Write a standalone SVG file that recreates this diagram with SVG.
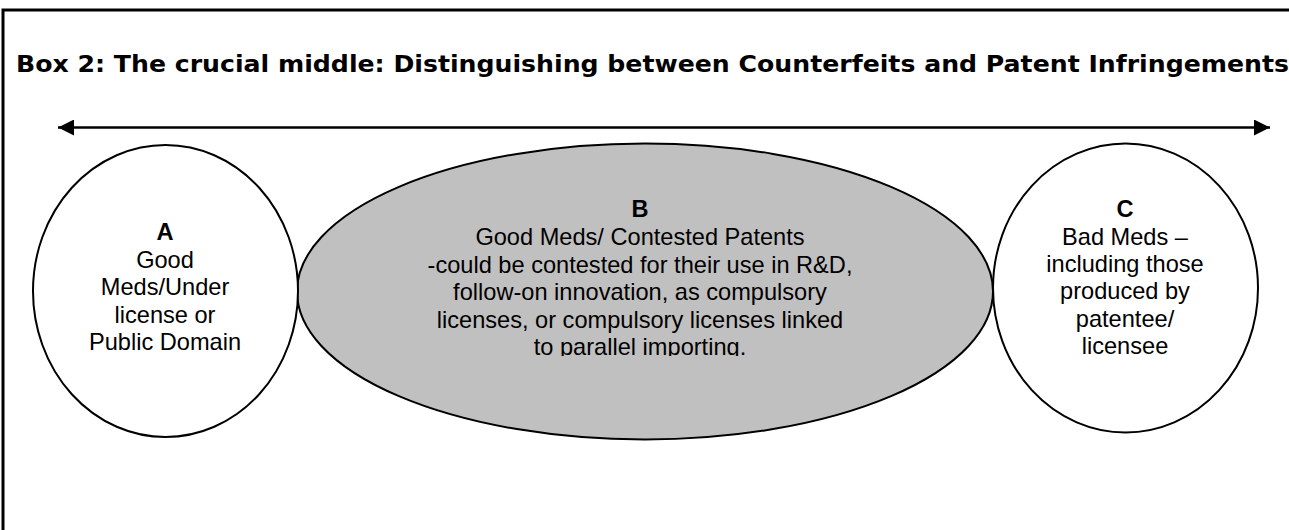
<svg xmlns="http://www.w3.org/2000/svg" width="1289" height="530" viewBox="0 0 1289 530">
<style>
.lbl{font-family:"Liberation Sans",Arial,sans-serif;font-size:23.6px;fill:#000;text-anchor:middle}
.b{font-weight:bold}
.shape{stroke:#000;stroke-width:2}
.title{font-family:"DejaVu Sans",Verdana,sans-serif;font-weight:bold;font-size:23px;fill:#000}
</style>
<defs>
<marker id="ah" viewBox="0 0 10 10" refX="10" refY="5" markerWidth="16" markerHeight="16" markerUnits="userSpaceOnUse" orient="auto-start-reverse">
<path d="M0,0 L10,5 L0,10 z" fill="#000"/>
</marker>
<clipPath id="bclip"><rect x="290" y="140" width="710" height="216"/></clipPath>
</defs>
<rect width="1289" height="530" fill="#fff"/>
<path d="M3,530 L3,10 L1289,10" fill="none" stroke="#000" stroke-width="3"/>
<text class="title" x="16" y="72" textLength="1273" lengthAdjust="spacingAndGlyphs">Box 2: The crucial middle: Distinguishing between Counterfeits and Patent Infringements</text>
<g id="connectors">
<line x1="58" y1="127.5" x2="1270" y2="127.5" stroke="#000" stroke-width="2.5" marker-start="url(#ah)" marker-end="url(#ah)"/>
</g>
<g id="nodeB">
<ellipse cx="645" cy="291.5" rx="348" ry="148" fill="#c0c0c0" class="shape"/>
<g clip-path="url(#bclip)">
<text class="lbl" x="640"><tspan class="b" x="640" y="217">B</tspan><tspan x="640" y="245">Good Meds/ Contested Patents</tspan><tspan x="640" y="272.5">-could be contested for their use in R&amp;D,</tspan><tspan x="640" y="300">follow-on innovation, as compulsory</tspan><tspan x="640" y="327.5">licenses, or compulsory licenses linked</tspan><tspan x="640" y="355">to parallel importing.</tspan></text>
</g>
</g>
<g id="nodeA">
<ellipse cx="165.5" cy="291" rx="132.5" ry="146" fill="#fff" class="shape"/>
<text class="lbl"><tspan class="b" x="165" y="240">A</tspan><tspan x="165" y="267.5">Good</tspan><tspan x="165" y="295">Meds/Under</tspan><tspan x="165" y="322.5">license or</tspan><tspan x="165" y="350">Public Domain</tspan></text>
</g>
<g id="nodeC">
<ellipse cx="1125.5" cy="288" rx="132.5" ry="144.5" fill="#fff" class="shape"/>
<text class="lbl"><tspan class="b" x="1125" y="217">C</tspan><tspan x="1125" y="244.5">Bad Meds –</tspan><tspan x="1125" y="272">including those</tspan><tspan x="1125" y="299">produced by</tspan><tspan x="1125" y="326.5">patentee/</tspan><tspan x="1125" y="353.5">licensee</tspan></text>
</g>
</svg>
